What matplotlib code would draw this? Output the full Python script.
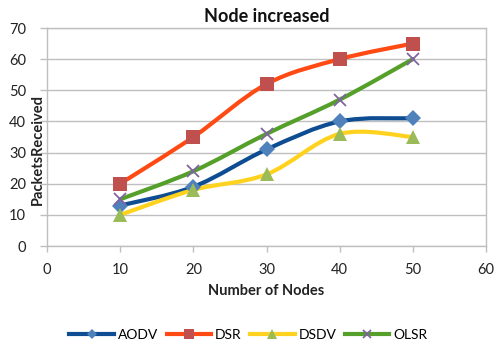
import matplotlib
matplotlib.use("Agg")
import matplotlib.pyplot as plt
from matplotlib.path import Path
from matplotlib.patches import PathPatch
from matplotlib.lines import Line2D

plt.rcParams['font.family'] = ['Lato', 'DejaVu Sans']

nodes = [10, 20, 30, 40, 50]
aodv = [13, 19, 31, 40, 41]
dsr = [20, 35, 52, 60, 65]
dsdv = [10, 18, 23, 36, 35]
olsr = [15, 24, 36, 47, 60]
series_names = ["AODV", "DSR", "DSDV", "OLSR"]
x_ticks = [0, 10, 20, 30, 40, 50, 60]
y_ticks = [0, 10, 20, 30, 40, 50, 60, 70]

styles = [
    dict(line="#0E4D92", mc="#4F81BD", marker="D", ms=8, mew=0),
    dict(line="#FF4A14", mc="#C0504D", marker="s", ms=10, mew=0),
    dict(line="#FFD21F", mc="#9BBB59", marker="^", ms=10, mew=0),
    dict(line="#55A02A", mc="#8064A2", marker="x", ms=9, mew=1.3),
]


def smooth_path(xs, ys):
    verts = [(xs[0], ys[0])]
    codes = [Path.MOVETO]
    n = len(xs)
    for i in range(n - 1):
        x0, y0 = (xs[i - 1], ys[i - 1]) if i > 0 else (xs[i], ys[i])
        x1, y1 = xs[i], ys[i]
        x2, y2 = xs[i + 1], ys[i + 1]
        x3, y3 = (xs[i + 2], ys[i + 2]) if i + 2 < n else (x2, y2)
        c1 = (x1 + (x2 - x0) / 6, y1 + (y2 - y0) / 6)
        c2 = (x2 - (x3 - x1) / 6, y2 - (y3 - y1) / 6)
        verts += [c1, c2, (x2, y2)]
        codes += [Path.CURVE4] * 3
    return Path(verts, codes)


fig = plt.figure(figsize=(4.97, 3.46), dpi=100)
ax = fig.add_axes([47 / 497, 1 - 246 / 346, (486 - 47) / 497, (246 - 28) / 346])

handles = []
for name, vals, st in zip(series_names, [aodv, dsr, dsdv, olsr], styles):
    patch = PathPatch(smooth_path(nodes, vals), facecolor="none",
                      edgecolor=st["line"], lw=3.0, capstyle="round", zorder=3)
    ax.add_patch(patch)
    ax.plot(nodes, vals, linestyle="none", marker=st["marker"], markersize=st["ms"],
            color=st["mc"], markeredgewidth=st["mew"], zorder=4)
    handles.append(Line2D([0], [0], color=st["line"], lw=3.0, marker=st["marker"],
                          markersize=st["ms"] * 0.7, markerfacecolor=st["mc"],
                          markeredgecolor=st["mc"], markeredgewidth=st["mew"]))

ax.set_xlim(0, 60)
ax.set_ylim(0, 70)
ax.set_xticks(x_ticks)
ax.set_yticks(y_ticks)
ax.grid(axis="y", color="#BFBFBF", lw=1)
ax.set_axisbelow(True)
for sp in ax.spines.values():
    sp.set_color("#BFBFBF")
    sp.set_linewidth(1)
ax.tick_params(axis="both", colors="#BFBFBF", labelcolor="#222222", labelsize=10.5,
               width=1)
ax.tick_params(axis="x", length=4, pad=8)
ax.tick_params(axis="y", length=5, pad=10)

ax.set_title("Node increased", fontsize=13, fontweight="bold", pad=4, color="#111111")
ax.set_xlabel("Number of Nodes", fontsize=10.5, fontweight="bold", labelpad=5, color="#222222")
fig.text(38 / 497, 1 - 150 / 346, "PacketsReceived", rotation=90, fontsize=10.5,
         fontweight="bold", ha="center", va="center", color="#222222")

fig.legend(handles, series_names, loc="center", bbox_to_anchor=(0.5, 1 - 335 / 346),
           ncol=4, frameon=False, fontsize=10, handlelength=3.2, columnspacing=0.6,
           handletextpad=0.3)

fig.savefig("out.png", dpi=100)
